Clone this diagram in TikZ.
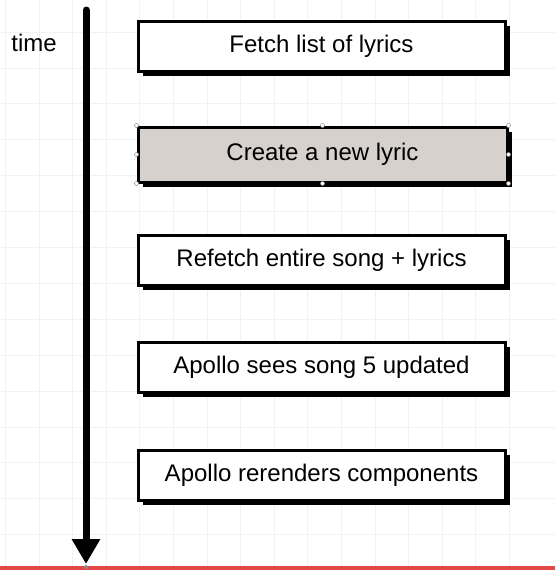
\documentclass[tikz,border=0pt]{standalone}
\usepackage{fontspec}
\setmainfont{Liberation Sans}
\usetikzlibrary{arrows.meta,shadows,calc}
\definecolor{GridClr}{rgb}{0.95,0.95,0.95}
\definecolor{SelClr}{rgb}{0.84,0.82,0.80}
\definecolor{BarClr}{rgb}{0.88,0.28,0.28}
\definecolor{HandleClr}{rgb}{0.55,0.55,0.55}

\begin{document}
\begin{tikzpicture}[x=1pt,y=-1pt,
  stepbox/.style={draw=black,line width=3pt,fill=white,minimum width=367pt,
    minimum height=50pt,inner sep=0pt,font=\fontsize{24}{28}\selectfont,
    drop shadow={shadow xshift=5pt,shadow yshift=-5pt,fill=black,opacity=1}},
  handle/.style={circle,draw=HandleClr,fill=white,line width=0.5pt,inner sep=0pt,minimum size=4pt}]
\useasboundingbox (0,0) rectangle (555,570);
\fill[white] (0,0) rectangle (555,570);

% background grid
\foreach \gx in {0,...,15}
  \draw[GridClr,line width=0.8pt] ({5.4+33.6*\gx},0) -- ({5.4+33.6*\gx},566);
\foreach \gy in {0,...,15}
  \draw[GridClr,line width=0.8pt] (0,{32+35.9*\gy}) -- (555,{32+35.9*\gy});

% time axis
\coordinate (tstart) at (86,10);
\coordinate (tend) at (86,564);
\draw[line width=7pt,line cap=round,-{Triangle[width=27pt,length=25pt]}] (tstart) -- (tend);
\node[font=\fontsize{24}{28}\selectfont,anchor=center] (time) at (34,43) {time};

% steps
\node[stepbox] (fetch) at (321.5,46) {Fetch list of lyrics};
\node[stepbox,fill=SelClr,minimum width=369pt,minimum height=55pt] (create) at (322.5,154.5) {Create a new lyric};
\node[stepbox] (refetch) at (321.5,260) {Refetch entire song + lyrics};
\node[stepbox] (sees) at (321.5,367) {Apollo sees song 5 updated};
\node[stepbox] (rerender) at (321.5,475) {Apollo rerenders components};

% selection handles
\foreach \h in {north west,north,north east,west,east,south west,south,south east}
  \node[handle] at (create.\h) {};

% bottom bar
\fill[BarClr] (0,566) rectangle (555,570);
\fill[HandleClr] (86,567) circle (2pt);
\end{tikzpicture}
\end{document}
